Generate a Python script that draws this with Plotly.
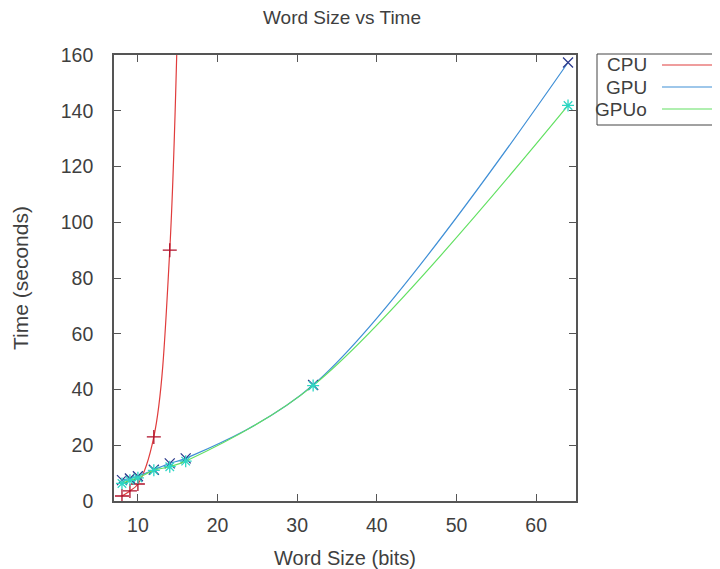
import plotly.graph_objects as go

# Data
series_names = ["CPU", "GPU", "GPUo"]
cpu_x = [8, 9, 10, 12, 14, 16]
cpu_y = [1.8, 3.6, 6.1, 23.0, 90.0, 330.0]
gpu_x = [8, 9, 10, 12, 14, 16, 32, 64]
gpu_y = [7.5, 8.1, 8.9, 11.2, 13.5, 15.3, 41.6, 157.3]
gpuo_x = [8, 9, 10, 12, 14, 16, 32, 64]
gpuo_y = [6.3, 7.4, 8.3, 11.0, 12.3, 14.3, 41.4, 141.9]

x_ticks = [10, 20, 30, 40, 50, 60]
y_ticks = [0, 20, 40, 60, 80, 100, 120, 140, 160]

line_colors = ["#e03c3c", "#3f8fd6", "#62e062"]
marker_colors = ["#b0102a", "#2c3a8c", "#2ed6c4"]
marker_symbols = ["cross-thin-open", "x-thin-open", "asterisk-open"]

FONT = "Liberation Sans"
TXT = "#3f3f3f"
AX = "#555555"

fig = go.Figure()
for name, xs, ys, lc, mc, ms in zip(series_names, [cpu_x, gpu_x, gpuo_x],
                                     [cpu_y, gpu_y, gpuo_y], line_colors,
                                     marker_colors, marker_symbols):
    fig.add_trace(go.Scatter(
        x=xs, y=ys, name=name, mode="lines+markers",
        line=dict(color=lc, width=1.2, shape="spline", smoothing=1.0),
        marker=dict(symbol=ms, size=10, color=mc, line=dict(color=mc, width=1.3)),
        showlegend=False,
    ))

# page offset of the figure (body margin) is 8 px; plot area in page pixels:
px_l, px_r, px_t, px_b = 114.0, 576.0, 55.0, 501.0
def px2x(p):
    return (p - px_l) / (px_r - px_l)
def py2y(p):
    return (px_b - p) / (px_b - px_t)

# Gnuplot-style legend (text left, line sample right)
shapes = [dict(type="rect", xref="paper", yref="paper",
               x0=px2x(597), x1=px2x(740), y0=py2y(125), y1=py2y(54),
               line=dict(color="#444444", width=1), fillcolor="rgba(0,0,0,0)")]
annotations = []
for i, (name, lc) in enumerate(zip(series_names, line_colors)):
    yy = 65 + i * 22
    shapes.append(dict(type="line", xref="paper", yref="paper",
                       x0=px2x(662), x1=px2x(735), y0=py2y(yy), y1=py2y(yy),
                       line=dict(color=lc, width=1.2)))
    annotations.append(dict(text=name, xref="paper", yref="paper",
                            x=px2x(649), y=py2y(yy), xanchor="right", yanchor="middle",
                            showarrow=False, font=dict(family=FONT, size=19, color=TXT)))

fig.update_layout(
    width=720, height=569,
    paper_bgcolor="white", plot_bgcolor="white",
    margin=dict(l=106, r=152, t=47, b=76),
    font=dict(family=FONT, size=19, color=TXT),
    title=dict(text="Word Size vs Time", x=334 / 720, xanchor="center",
               y=1 - 9.5 / 569, yanchor="middle",
               font=dict(family=FONT, size=19, color=TXT)),
    shapes=shapes, annotations=annotations,
)
fig.update_xaxes(range=[7, 65], tickvals=x_ticks, ticks="inside", ticklen=7,
                 tickcolor=AX, showline=True, linecolor=AX, linewidth=1.6,
                 mirror="ticks", showgrid=False, zeroline=False,
                 ticklabelstandoff=6,
                 title=dict(text="Word Size (bits)", standoff=16,
                            font=dict(family=FONT, size=20, color=TXT)),
                 tickfont=dict(family=FONT, size=19.5, color=TXT))
fig.update_yaxes(range=[0, 160], tickvals=y_ticks, ticks="inside", ticklen=7,
                 tickcolor=AX, showline=True, linecolor=AX, linewidth=1.6,
                 mirror="ticks", showgrid=False, zeroline=False,
                 ticklabelstandoff=15,
                 title=dict(text="Time (seconds)", standoff=26,
                            font=dict(family=FONT, size=21, color=TXT)),
                 tickfont=dict(family=FONT, size=19.5, color=TXT))

fig.write_html("out.html")
